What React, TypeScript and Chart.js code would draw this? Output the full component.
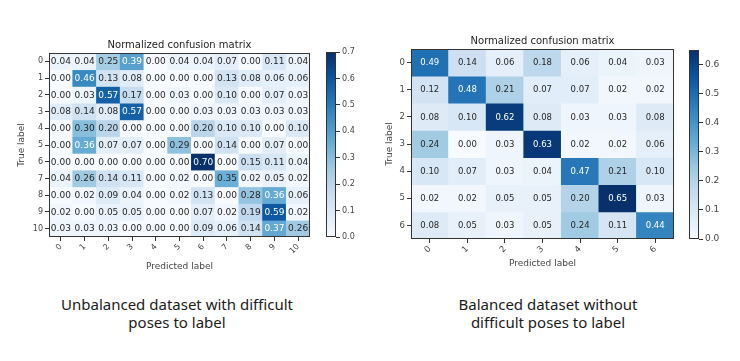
import React, { useEffect, useRef } from "react";
import { Chart, registerables } from "chart.js";

Chart.register(...registerables);

// ---------- DATA ----------
const leftLabels = ["0", "1", "2", "3", "4", "5", "6", "7", "8", "9", "10"];
const leftMatrix = [
  [0.04, 0.04, 0.25, 0.39, 0.0, 0.04, 0.04, 0.07, 0.0, 0.11, 0.04],
  [0.0, 0.46, 0.13, 0.08, 0.0, 0.0, 0.0, 0.13, 0.08, 0.06, 0.06],
  [0.0, 0.03, 0.57, 0.17, 0.0, 0.03, 0.0, 0.1, 0.0, 0.07, 0.03],
  [0.08, 0.14, 0.08, 0.57, 0.0, 0.0, 0.03, 0.03, 0.03, 0.03, 0.03],
  [0.0, 0.3, 0.2, 0.0, 0.0, 0.0, 0.2, 0.1, 0.1, 0.0, 0.1],
  [0.0, 0.36, 0.07, 0.07, 0.0, 0.29, 0.0, 0.14, 0.0, 0.07, 0.0],
  [0.0, 0.0, 0.0, 0.0, 0.0, 0.0, 0.7, 0.0, 0.15, 0.11, 0.04],
  [0.04, 0.26, 0.14, 0.11, 0.0, 0.02, 0.0, 0.35, 0.02, 0.05, 0.02],
  [0.0, 0.02, 0.09, 0.04, 0.0, 0.02, 0.13, 0.0, 0.28, 0.36, 0.06],
  [0.02, 0.0, 0.05, 0.05, 0.0, 0.0, 0.07, 0.02, 0.19, 0.59, 0.02],
  [0.03, 0.03, 0.03, 0.0, 0.0, 0.0, 0.09, 0.06, 0.14, 0.37, 0.26],
];
const leftColorbarTicks = [0.0, 0.1, 0.2, 0.3, 0.4, 0.5, 0.6, 0.7];

const rightLabels = ["0", "1", "2", "3", "4", "5", "6"];
const rightMatrix = [
  [0.49, 0.14, 0.06, 0.18, 0.06, 0.04, 0.03],
  [0.12, 0.48, 0.21, 0.07, 0.07, 0.02, 0.02],
  [0.08, 0.1, 0.62, 0.08, 0.03, 0.03, 0.08],
  [0.24, 0.0, 0.03, 0.63, 0.02, 0.02, 0.06],
  [0.1, 0.07, 0.03, 0.04, 0.47, 0.21, 0.1],
  [0.02, 0.02, 0.05, 0.05, 0.2, 0.65, 0.03],
  [0.08, 0.05, 0.03, 0.05, 0.24, 0.11, 0.44],
];
const rightColorbarTicks = [0.0, 0.1, 0.2, 0.3, 0.4, 0.5, 0.6];

const chartTitle = "Normalized confusion matrix";
const xAxisTitle = "Predicted label";
const yAxisTitle = "True label";
const leftCaption = ["Unbalanced dataset with difficult", "poses to label"];
const rightCaption = ["Balanced dataset without", "difficult poses to label"];

// ---------- COLORMAP (matplotlib Blues) ----------
const BLUES = ["#f7fbff", "#deebf7", "#c6dbef", "#9ecae1", "#6baed6", "#4292c6", "#2171b5", "#08519c", "#08306b"];
function hexToRgb(h: string) {
  return [parseInt(h.slice(1, 3), 16), parseInt(h.slice(3, 5), 16), parseInt(h.slice(5, 7), 16)];
}
function blues(t: number) {
  const c = Math.max(0, Math.min(1, t));
  const p = c * (BLUES.length - 1);
  const i = Math.min(Math.floor(p), BLUES.length - 2);
  const f = p - i;
  const a = hexToRgb(BLUES[i]);
  const b = hexToRgb(BLUES[i + 1]);
  const r = a.map((v, k) => Math.round(v + (b[k] - v) * f));
  return `rgb(${r[0]},${r[1]},${r[2]})`;
}

const FONT = "DejaVu Sans";
const INK = "#333";

// ---------- GENERIC CANVAS COMPONENT ----------
function ChartCanvas({ left, top, width, height, make }: any) {
  const ref = useRef<HTMLCanvasElement | null>(null);
  useEffect(() => {
    if (!ref.current) return;
    const chart = new Chart(ref.current, make());
    return () => chart.destroy();
  }, []);
  return (
    <canvas
      ref={ref}
      width={width}
      height={height}
      style={{ position: "absolute", left, top, width, height }}
    />
  );
}

function matrixConfig(opts: any) {
  const { labels, matrix, padTop, padRight, yAxisW, xAxisH, yTitlePad, xTitlePad, cellFont, tickFont } = opts;
  const vmax = Math.max(...matrix.map((r: number[]) => Math.max(...r)));
  const thresh = vmax / 2;
  const textPlugin = {
    id: "cellText",
    afterDatasetsDraw(chart: any) {
      const ctx = chart.ctx;
      ctx.save();
      ctx.font = `${cellFont}px "${FONT}"`;
      ctx.textAlign = "center";
      ctx.textBaseline = "middle";
      matrix.forEach((row: number[], i: number) => {
        const meta = chart.getDatasetMeta(i);
        meta.data.forEach((el: any, j: number) => {
          const { x, y } = el.getCenterPoint();
          const v = row[j];
          ctx.fillStyle = v > thresh ? "#ffffff" : "#262626";
          ctx.fillText(v.toFixed(2), x, y + 0.5);
        });
      });
      const ca = chart.chartArea;
      ctx.strokeStyle = INK;
      ctx.lineWidth = 1;
      ctx.strokeRect(Math.round(ca.left) + 0.5, Math.round(ca.top) + 0.5, Math.round(ca.right - ca.left) - 1, Math.round(ca.bottom - ca.top) - 1);
      ctx.fillStyle = "#222";
      ctx.font = `10px "${FONT}"`;
      ctx.textAlign = "center";
      ctx.textBaseline = "bottom";
      ctx.fillText(chartTitle, (ca.left + ca.right) / 2, ca.top - 3);
      ctx.restore();
    },
  };
  return {
    type: "bar",
    data: {
      labels,
      datasets: matrix.map((row: number[], i: number) => ({
        data: row.map(() => [i - 0.5, i + 0.5]),
        backgroundColor: row.map((v) => blues(v / vmax)),
        borderWidth: 0,
        grouped: false,
        barPercentage: 1,
        categoryPercentage: 1,
      })),
    },
    options: {
      responsive: false,
      animation: false,
      devicePixelRatio: 1,
      events: [],
      layout: { padding: { top: padTop, right: padRight, bottom: 0, left: 0 } },
      plugins: { legend: { display: false }, tooltip: { enabled: false }, title: { display: false } },
      scales: {
        x: {
          type: "category",
          offset: true,
          grid: { display: true, drawOnChartArea: false, drawTicks: true, tickLength: 4, color: INK, offset: false },
          border: { display: false },
          ticks: { autoSkip: false, minRotation: 45, maxRotation: 45, font: { family: FONT, size: tickFont }, color: "#444", padding: 1 },
          title: { display: true, text: xAxisTitle, font: { family: FONT, size: 9 }, color: "#444", padding: { top: 0, bottom: xTitlePad } },
          afterFit: (s: any) => {
            s.height = xAxisH;
          },
        },
        y: {
          type: "linear",
          reverse: true,
          min: -0.5,
          max: labels.length - 0.5,
          afterBuildTicks: (s: any) => {
            s.ticks = labels.map((_: string, i: number) => ({ value: i }));
          },
          grid: { display: true, drawOnChartArea: false, drawTicks: true, tickLength: 4, color: INK },
          border: { display: false },
          ticks: {
            callback: (v: any) => labels[Math.round(Number(v))],
            font: { family: FONT, size: tickFont },
            color: "#444",
            padding: 2,
          },
          title: { display: true, text: yAxisTitle, font: { family: FONT, size: 9 }, color: "#444", padding: { top: yTitlePad, bottom: 0 } },
          afterFit: (s: any) => {
            s.width = yAxisW;
          },
        },
      },
    },
    plugins: [textPlugin],
  };
}

function colorbarConfig(opts: any) {
  const { ticks, vmax, padTop, padBottom, padLeft, axisW, tickFont } = opts;
  const framePlugin = {
    id: "cbFrame",
    afterDatasetsDraw(chart: any) {
      const ca = chart.chartArea;
      const ctx = chart.ctx;
      ctx.save();
      ctx.strokeStyle = INK;
      ctx.lineWidth = 1;
      ctx.strokeRect(Math.round(ca.left) + 0.5, Math.round(ca.top) + 0.5, Math.round(ca.right - ca.left) - 1, Math.round(ca.bottom - ca.top) - 1);
      ctx.restore();
    },
  };
  return {
    type: "bar",
    data: {
      labels: [""],
      datasets: [
        {
          data: [[0, vmax]],
          backgroundColor: (c: any) => {
            const chart = c.chart;
            const ca = chart.chartArea;
            if (!ca) return BLUES[0];
            const g = chart.ctx.createLinearGradient(0, ca.bottom, 0, ca.top);
            BLUES.forEach((col, k) => g.addColorStop(k / (BLUES.length - 1), col));
            return g;
          },
          borderWidth: 0,
          barPercentage: 1,
          categoryPercentage: 1,
        },
      ],
    },
    options: {
      responsive: false,
      animation: false,
      devicePixelRatio: 1,
      events: [],
      layout: { padding: { top: padTop, bottom: padBottom, left: padLeft, right: 0 } },
      plugins: { legend: { display: false }, tooltip: { enabled: false } },
      scales: {
        x: { display: false },
        y: {
          position: "right",
          min: 0,
          max: vmax,
          afterBuildTicks: (s: any) => {
            s.ticks = ticks.map((v: number) => ({ value: v }));
          },
          grid: { display: true, drawOnChartArea: false, drawTicks: true, tickLength: 4, color: INK },
          border: { display: false },
          ticks: { callback: (v: any) => Number(v).toFixed(1), font: { family: FONT, size: tickFont }, color: "#444", padding: 2 },
          afterFit: (s: any) => {
            s.width = axisW;
          },
        },
      },
    },
    plugins: [framePlugin],
  };
}

const captionStyle: any = {
  position: "absolute",
  top: 295,
  fontFamily: '"Noto Sans", sans-serif',
  fontSize: 15,
  lineHeight: "18px",
  color: "#1a1a1a",
  textAlign: "center",
  whiteSpace: "nowrap",
};

export default function App() {
  const leftMax = Math.max(...leftMatrix.map((r) => Math.max(...r)));
  const rightMax = Math.max(...rightMatrix.map((r) => Math.max(...r)));
  return (
    <div style={{ position: "absolute", left: 0, top: 0, width: 740, height: 361, background: "#fff", overflow: "hidden" }}>
      <ChartCanvas
        left={0}
        top={0}
        width={320}
        height={290}
        make={() =>
          matrixConfig({
            labels: leftLabels,
            matrix: leftMatrix,
            padTop: 53,
            padRight: 10,
            yAxisW: 49,
            xAxisH: 53,
            yTitlePad: 16,
            xTitlePad: 18,
            cellFont: 9,
            tickFont: 8,
          })
        }
      />
      <ChartCanvas
        left={320}
        top={0}
        width={50}
        height={290}
        make={() =>
          colorbarConfig({ ticks: leftColorbarTicks, vmax: leftMax, padTop: 52, padBottom: 53, padLeft: 6, axisW: 34, tickFont: 8 })
        }
      />
      <ChartCanvas
        left={370}
        top={0}
        width={310}
        height={290}
        make={() =>
          matrixConfig({
            labels: rightLabels,
            matrix: rightMatrix,
            padTop: 49,
            padRight: 6,
            yAxisW: 41,
            xAxisH: 51,
            yTitlePad: 14,
            xTitlePad: 21,
            cellFont: 8.5,
            tickFont: 8.5,
          })
        }
      />
      <ChartCanvas
        left={683}
        top={0}
        width={57}
        height={290}
        make={() =>
          colorbarConfig({ ticks: rightColorbarTicks, vmax: rightMax, padTop: 50, padBottom: 51, padLeft: 6, axisW: 41, tickFont: 9 })
        }
      />
      <div style={{ ...captionStyle, left: 27, width: 300 }}>
        {leftCaption[0]}
        <br />
        {leftCaption[1]}
      </div>
      <div style={{ ...captionStyle, left: 398, width: 300 }}>
        {rightCaption[0]}
        <br />
        {rightCaption[1]}
      </div>
    </div>
  );
}
